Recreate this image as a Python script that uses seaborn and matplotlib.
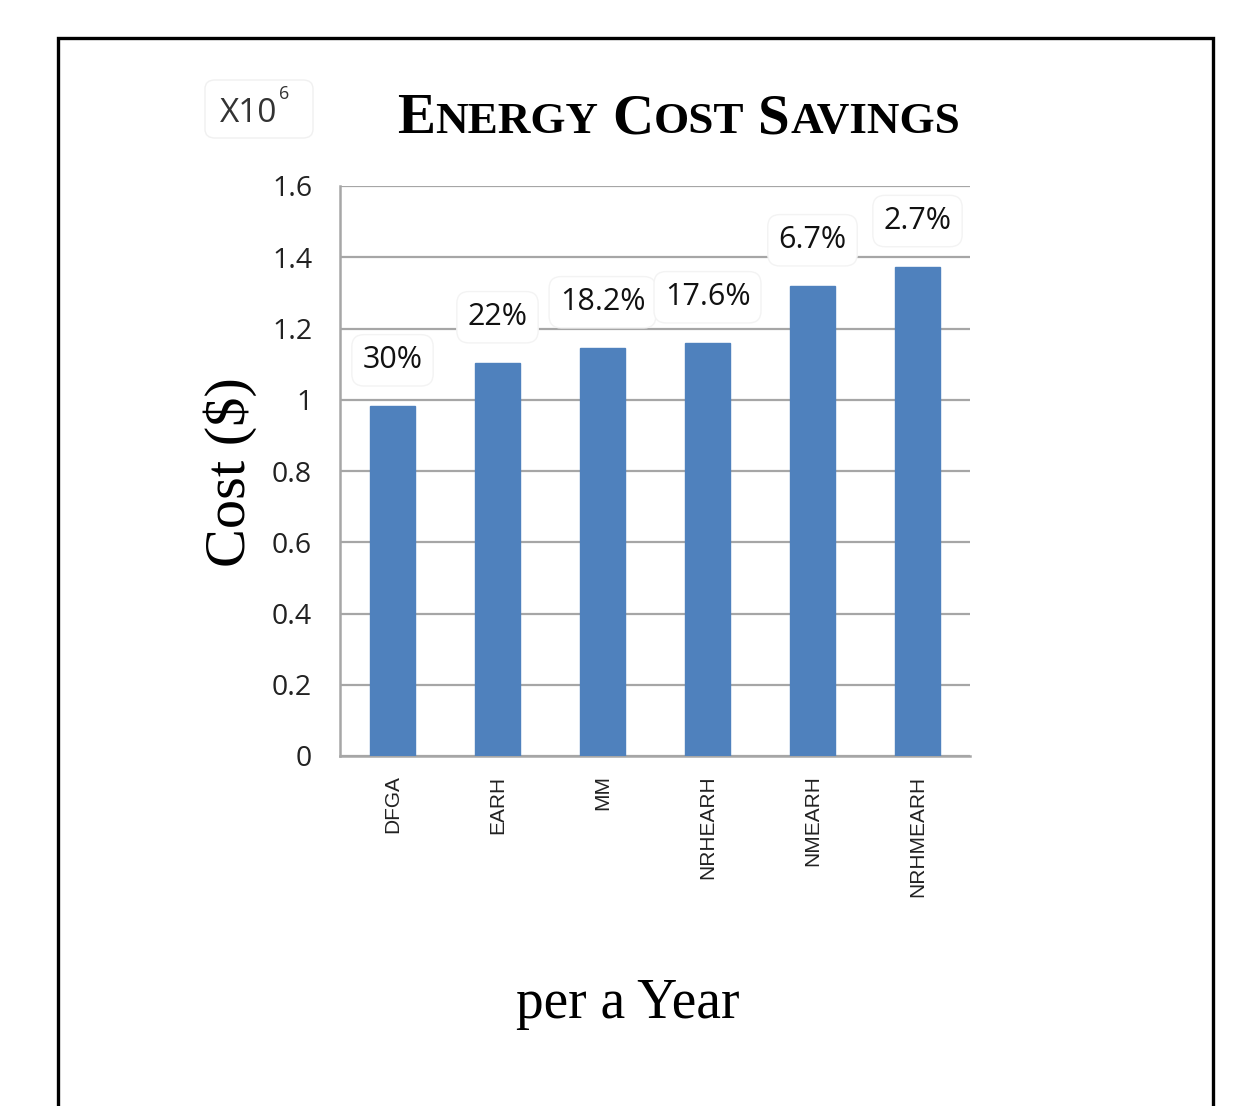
import matplotlib
matplotlib.use("Agg")
import matplotlib.pyplot as plt
import seaborn as sns
import pandas as pd
from matplotlib.patches import Rectangle, FancyBboxPatch

categories = ["DFGA", "EARH", "MM", "NRHEARH", "NMEARH", "NRHMEARH"]
costs = [0.982, 1.103, 1.145, 1.159, 1.319, 1.373]
savings_labels = ["30%", "22%", "18.2%", "17.6%", "6.7%", "2.7%"]
yticks = [0, 0.2, 0.4, 0.6, 0.8, 1.0, 1.2, 1.4, 1.6]
ytick_labels = ["0", "0.2", "0.4", "0.6", "0.8", "1", "1.2", "1.4", "1.6"]

df = pd.DataFrame({"method": categories, "cost": costs})

sns.set_theme(style="white")
plt.rcParams["font.family"] = ["Open Sans", "DejaVu Sans"]

W, H = 1237, 1106
fig = plt.figure(figsize=(W / 100, H / 100), dpi=100)
fig.patch.set_facecolor("white")

ax = fig.add_axes([340 / W, 1 - 756 / H, 630 / W, 570 / H])
sns.barplot(data=df, x="method", y="cost", ax=ax, color="#4F81BD",
            width=0.42, saturation=1, edgecolor="#4F81BD", zorder=3)
ax.set_ylim(0, 1.6)
ax.set_xlim(-0.5, len(categories) - 0.5)
ax.set_yticks(yticks)
ax.set_yticklabels(ytick_labels, fontsize=20.5, color="#222222")
ax.tick_params(axis="y", length=0, pad=20)
ax.tick_params(axis="x", length=0, pad=14)
for lbl in ax.get_xticklabels():
    lbl.set_rotation(90)
    lbl.set_fontsize(15)
    lbl.set_family("Liberation Sans")
    lbl.set_va("top")
    lbl.set_color("#222222")
ax.set_xlabel("")
ax.set_ylabel("")
ax.yaxis.grid(True, color="#A6A6A6", linewidth=1.6, zorder=0)
ax.set_axisbelow(True)
for s in ["top", "right"]:
    ax.spines[s].set_visible(False)
for s in ["left", "bottom"]:
    ax.spines[s].set_color("#A6A6A6")
    ax.spines[s].set_linewidth(1.8)

for i, (v, t) in enumerate(zip(costs, savings_labels)):
    ax.annotate(t, xy=(i, v), xytext=(0, 33), textcoords="offset points",
                ha="center", va="center", fontsize=22, color="#111111",
                zorder=5,
                bbox=dict(boxstyle="round,pad=0.35,rounding_size=0.4",
                          facecolor="white", edgecolor="#F3F3F3", linewidth=1))

# outer frame
fig.patches.append(Rectangle((58 / W, -0.01), (1213 - 58) / W, 1 - 38 / H + 0.01,
                             transform=fig.transFigure, fill=False,
                             edgecolor="black", linewidth=2.4))

# multiplier box
fig.patches.append(FancyBboxPatch((205 / W, 1 - 138 / H), 108 / W, 58 / H,
                                  boxstyle="round,pad=0,rounding_size=0.008",
                                  transform=fig.transFigure, facecolor="white",
                                  edgecolor="#F0F0F0", linewidth=1))
fig.text(220 / W, 1 - 122 / H, "X10", fontsize=24, ha="left", va="baseline",
         color="#333333")
fig.text(279 / W, 1 - 99 / H, "6", fontsize=13, ha="left", va="baseline",
         color="#333333")

# small-caps title
renderer = fig.canvas.get_renderer()
pieces = [("E", 41), ("NERGY", 32.5), (" ", 41), ("C", 41), ("OST", 32.5),
          (" ", 41), ("S", 41), ("AVINGS", 32.5)]
x = 397.0
base_y = 133.0
for txt, size in pieces:
    t = fig.text(x / W, 1 - base_y / H, txt, fontsize=size, ha="left",
                 va="baseline", fontweight="bold", family="Liberation Serif",
                 color="black")
    if txt == " ":
        t.set_text("I")
        w = t.get_window_extent(renderer).width * 0.65
        t.set_text("")
    else:
        w = t.get_window_extent(renderer).width
    x += w

fig.text(230 / W, 1 - 472 / H, "Cost ($)", fontsize=42, rotation=90,
         ha="center", va="center", family="Liberation Serif", color="black")
fig.text(628 / W, 1 - 1018 / H, "per a Year", fontsize=40, ha="center",
         va="baseline", family="Liberation Serif", color="black")

fig.savefig("out.png", dpi=100, facecolor="white")
